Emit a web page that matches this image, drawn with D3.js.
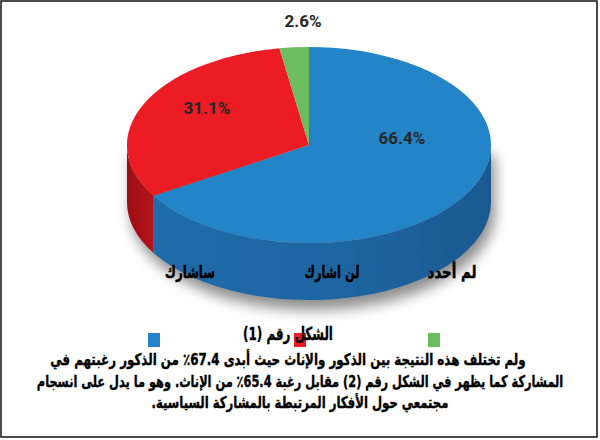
<!DOCTYPE html>
<html><head><meta charset="utf-8">
<script src="https://cdn.jsdelivr.net/npm/d3@7"></script>
<style>html,body{margin:0;padding:0;background:#fff;}svg{display:block;}</style>
</head><body>
<svg id="c" width="600" height="440"></svg>
<script>
// ---- data ----
const categories = ["ساشارك", "لن اشارك", "لم أحدد"];
const values = [66.4, 31.1, 2.6];
const pctLabels = ["66.4%", "31.1%", "2.6%"];
const topColors = ["#2484c8", "#ec1c24", "#6bbd5f"];
const sideColors = ["#1e67a4", "#b0121a", "#4e9a44"];
const title = "الشكل رقم (1)";
const paragraph = [
  "ولم تختلف هذه النتيجة بين الذكور والإناث حيث أبدى 67.4٪ من الذكور رغبتهم في",
  "المشاركة كما يظهر في الشكل رقم (2) مقابل رغبة 65.4٪ من الإناث. وهو ما يدل على انسجام",
  "مجتمعي حول الأفكار المرتبطة بالمشاركة السياسية."
];

// ---- layout ----
const cx = 309, cy = 145, rx = 182, ry = 98, depth = 57;
const labelPos = [[402, 144], [207, 114], [303, 27]];
const legendSq = [148, 294, 428];
const legendTx = [190, 332, 452];
const legendW = [50, 55, 49];
const paraLayout = [[288, 365, 476], [300, 387, 527], [300, 408, 297]];

const svg = d3.select("#c");
const defs = svg.append("defs");
const f = defs.append("filter").attr("id","sh").attr("x","-20%").attr("y","-20%").attr("width","140%").attr("height","160%");
f.append("feGaussianBlur").attr("in","SourceAlpha").attr("stdDeviation",7);
f.append("feOffset").attr("dx",4).attr("dy",10).attr("result","b");
f.append("feComponentTransfer").append("feFuncA").attr("type","linear").attr("slope",0.45);

const g1 = defs.append("linearGradient").attr("id","gb").attr("x1",0).attr("x2",1).attr("y1",0).attr("y2",0);
g1.append("stop").attr("offset","0%").attr("stop-color","#1f6aa8");
g1.append("stop").attr("offset","55%").attr("stop-color","#1e66a2");
g1.append("stop").attr("offset","100%").attr("stop-color","#1a5990");
const g2 = defs.append("linearGradient").attr("id","gr").attr("x1",0).attr("x2",1).attr("y1",0).attr("y2",0);
g2.append("stop").attr("offset","0%").attr("stop-color","#9e0d14");
g2.append("stop").attr("offset","100%").attr("stop-color","#b3131b");
const sideFill = ["url(#gb)", "url(#gr)", sideColors[2]];

const pie = d3.pie().sort(null).startAngle(0).endAngle(2*Math.PI);
const arcs = pie(values);

const px = a => cx + rx*Math.sin(a);
const py = (a, dz=0) => cy - ry*Math.cos(a) + dz;

// shadow
const shadowG = svg.append("g").attr("filter","url(#sh)");
shadowG.append("path")
  .attr("d", `M${cx-rx},${cy} L${cx-rx},${cy+depth} A${rx},${ry} 0 0 0 ${cx+rx},${cy+depth} L${cx+rx},${cy} Z`)
  .attr("fill","#000");

// sides
const lo = Math.PI/2, hi = 3*Math.PI/2;
arcs.forEach((d,i) => {
  const a0 = Math.max(d.startAngle, lo), a1 = Math.min(d.endAngle, hi);
  if (a1 <= a0) return;
  const large = (a1 - a0) > Math.PI ? 1 : 0;
  const p = `M${px(a0)},${py(a0)} A${rx},${ry} 0 ${large} 1 ${px(a1)},${py(a1)} ` +
            `L${px(a1)},${py(a1,depth)} A${rx},${ry} 0 ${large} 0 ${px(a0)},${py(a0,depth)} Z`;
  svg.append("path").attr("d", p).attr("fill", sideFill[i]);
});

// tops
arcs.forEach((d,i) => {
  const a0 = d.startAngle, a1 = d.endAngle;
  const large = (a1 - a0) > Math.PI ? 1 : 0;
  const p = `M${cx},${cy} L${px(a0)},${py(a0)} A${rx},${ry} 0 ${large} 1 ${px(a1)},${py(a1)} Z`;
  svg.append("path").attr("d", p).attr("fill", topColors[i]);
});

// percentage labels
svg.selectAll("text.pct").data(pctLabels).enter().append("text")
  .attr("class","pct")
  .attr("x",(d,i)=>labelPos[i][0]).attr("y",(d,i)=>labelPos[i][1])
  .attr("text-anchor","middle")
  .attr("font-family","'Liberation Sans Narrow','Roboto',sans-serif")
  .attr("font-weight","bold").attr("font-size",17).attr("fill","#262626")
  .text(d=>d);

const arabic = "'DejaVu Sans',sans-serif";

// horizontally squeeze a text (drawn at 0,0) to a target width via transform
function squeeze(sel, xFn, yFn, wFn) {
  sel.each(function(d,i){
    const w = this.getComputedTextLength();
    const k = Math.min(1, wFn(d,i)/w);
    d3.select(this).attr("transform", `translate(${xFn(d,i)},${yFn(d,i)}) scale(${k.toFixed(4)},1)`);
  });
}

// category labels
const cat = svg.selectAll("text.cat").data(categories).enter().append("text")
  .attr("class","cat")
  .attr("text-anchor","middle").attr("direction","rtl")
  .attr("font-family",arabic)
  .attr("font-weight","bold").attr("font-size",17).attr("fill","#000")
  .attr("stroke","#000").attr("stroke-width",0.5)
  .text(d=>d);
squeeze(cat, (d,i)=>legendTx[i], ()=>278, (d,i)=>legendW[i]);

// legend squares
svg.selectAll("rect.lg").data(categories).enter().append("rect")
  .attr("class","lg")
  .attr("x",(d,i)=>legendSq[i]).attr("y",333)
  .attr("width",12).attr("height",14)
  .attr("fill",(d,i)=>topColors[i]);

// title
const tt = svg.append("text").datum(title)
  .attr("text-anchor","middle").attr("direction","rtl")
  .attr("font-family",arabic)
  .attr("font-weight","bold").attr("font-size",18).attr("fill","#000")
  .attr("stroke","#000").attr("stroke-width",0.4)
  .text(d=>d);
squeeze(tt, ()=>288, ()=>340, ()=>90);

// paragraph
const para = svg.selectAll("text.para").data(paragraph).enter().append("text")
  .attr("class","para")
  .attr("text-anchor","middle").attr("direction","rtl")
  .attr("font-family",arabic)
  .attr("font-weight","bold").attr("font-size",16).attr("fill","#000")
  .attr("stroke","#000").attr("stroke-width",0.4)
  .text(d=>d);
squeeze(para, (d,i)=>paraLayout[i][0], (d,i)=>paraLayout[i][1], (d,i)=>paraLayout[i][2]);

// frame
svg.append("rect").attr("x",1).attr("y",1).attr("width",596).attr("height",436)
  .attr("fill","none").attr("stroke","#111").attr("stroke-width",1.5);
</script>
</body></html>
